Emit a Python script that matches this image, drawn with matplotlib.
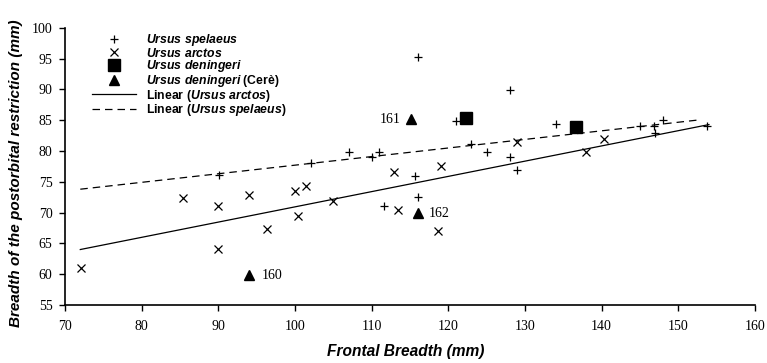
import numpy as np
import matplotlib.pyplot as plt
from matplotlib.lines import Line2D

plt.rcParams['mathtext.fontset'] = 'custom'
plt.rcParams['mathtext.rm'] = 'Liberation Sans:bold'
plt.rcParams['mathtext.it'] = 'Liberation Sans:bold:italic'

# frontal breadth (x) vs postorbital restriction (y), mm
spelaeus_x = [90.1, 102.1, 107.0, 110.1, 111.0, 111.6, 115.6, 116.1, 116.0, 121.0,
              123.0, 125.0, 128.0, 128.0, 129.0, 134.0, 145.0, 146.8, 147.0, 148.0, 153.8]
spelaeus_y = [76.1, 78.0, 79.8, 79.1, 79.8, 71.1, 76.0, 72.6, 95.2, 84.9,
              81.1, 79.8, 79.0, 89.9, 76.9, 84.4, 84.0, 84.1, 82.9, 85.1, 84.0]

arctos_x = [72.1, 85.4, 90.0, 90.0, 94.0, 96.3, 100.0, 100.4, 101.4, 105.0,
            112.9, 113.5, 118.6, 119.0, 129.0, 138.0, 140.3]
arctos_y = [61.0, 72.4, 71.1, 64.1, 72.9, 67.3, 73.5, 69.5, 74.4, 71.9,
            76.6, 70.5, 67.0, 77.5, 81.4, 79.9, 81.9]

deningeri_x = [122.3, 136.6]
deningeri_y = [85.3, 83.9]

cere_x = [94.0, 115.1, 116.0]
cere_y = [59.8, 85.2, 69.9]
cere_ids = ['160', '161', '162']

# linear trend lines (end points)
fit_arctos_x = [72.0, 154.0]
fit_arctos_y = [64.0, 84.3]
fit_spelaeus_x = [72.0, 153.0]
fit_spelaeus_y = [73.8, 85.1]

fig = plt.figure(figsize=(7.67, 3.63), dpi=100)
ax = fig.add_axes([0.0847, 0.16, 0.8996, 0.763])

ax.plot(fit_arctos_x, fit_arctos_y, color='black', lw=0.9)
ax.plot(fit_spelaeus_x, fit_spelaeus_y, color='black', lw=0.9, dashes=(6, 4))

ax.plot(spelaeus_x, spelaeus_y, ls='none', marker='+', ms=6, mew=0.9, color='black')
ax.plot(arctos_x, arctos_y, ls='none', marker='x', ms=5.5, mew=0.9, color='black')
ax.plot(deningeri_x, deningeri_y, ls='none', marker='s', ms=8, color='black')
ax.plot(cere_x, cere_y, ls='none', marker='^', ms=6.5, color='black')

serif = 'Liberation Serif'
ax.annotate(cere_ids[0], (cere_x[0], cere_y[0]), xytext=(9, 0), textcoords='offset points',
            va='center', ha='left', fontsize=10, family=serif)
ax.annotate(cere_ids[1], (cere_x[1], cere_y[1]), xytext=(-7, 0), textcoords='offset points',
            va='center', ha='right', fontsize=10, family=serif)
ax.annotate(cere_ids[2], (cere_x[2], cere_y[2]), xytext=(8, 0), textcoords='offset points',
            va='center', ha='left', fontsize=10, family=serif)

ax.set_xlim(70, 160)
ax.set_ylim(55, 100)
ax.set_xticks(np.arange(70, 161, 10))
ax.set_yticks(np.arange(55, 101, 5))
for sp in ['top', 'right']:
    ax.spines[sp].set_visible(False)
for sp in ['left', 'bottom']:
    ax.spines[sp].set_linewidth(1.2)
ax.tick_params(direction='out', length=4, width=1.0, labelsize=10)
ax.tick_params(axis='x', pad=7)
ax.tick_params(axis='y', pad=5)
for lab in ax.get_xticklabels() + ax.get_yticklabels():
    lab.set_family(serif)

ax.set_xlabel('Frontal Breadth (mm)', fontsize=11.2, fontweight='bold', style='italic',
              family='Liberation Sans')
ax.set_ylabel('Breadth of the postorbital restriction (mm)', fontsize=11, fontweight='bold',
              style='italic', family='Liberation Sans')
ax.xaxis.set_label_coords(0.494, -0.142)
ax.yaxis.set_label_coords(-0.061, 0.477)

handles = [
    Line2D([], [], ls='none', marker='+', ms=6, mew=0.9, color='black'),
    Line2D([], [], ls='none', marker='x', ms=5.5, mew=0.9, color='black'),
    Line2D([], [], ls='none', marker='s', ms=8, color='black'),
    Line2D([], [], ls='none', marker='^', ms=6.5, color='black'),
    Line2D([], [], color='black', lw=0.9),
    Line2D([], [], color='black', lw=0.9, dashes=(6, 4)),
]
labels = [
    r'$\mathit{Ursus\ spelaeus}$',
    r'$\mathit{Ursus\ arctos}$',
    r'$\mathit{Ursus\ deningeri}$',
    r'$\mathit{Ursus\ deningeri}$ (Cerè)',
    r'Linear ($\mathit{Ursus\ arctos}$)',
    r'Linear ($\mathit{Ursus\ spelaeus}$)',
]
leg = ax.legend(handles, labels, loc='upper left', bbox_to_anchor=(0.039, 0.985),
                frameon=False, borderpad=0, borderaxespad=0, handlelength=3.6,
                handletextpad=0.8, labelspacing=-0.11,
                prop={'family': 'Liberation Sans', 'weight': 'bold', 'size': 8.8})

fig.savefig('out.png', dpi=100)
